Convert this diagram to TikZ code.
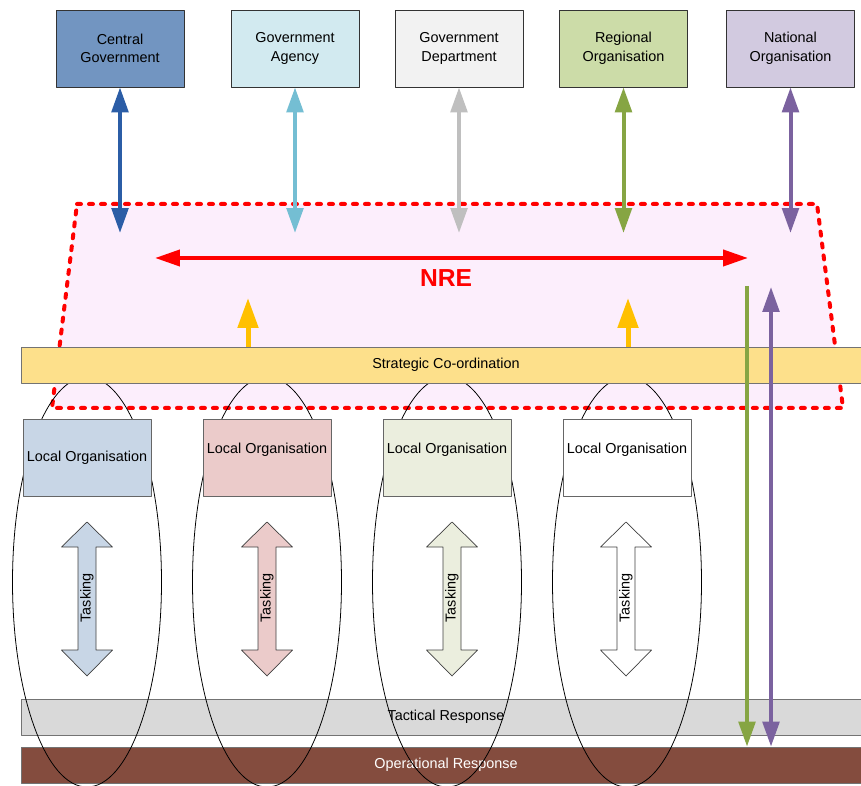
\documentclass[tikz,border=0pt]{standalone}
\usepackage{fontspec}
\setmainfont{Liberation Sans}
\usetikzlibrary{arrows.meta}
\definecolor{cgfill}{HTML}{7295C1}
\definecolor{gafill}{HTML}{D2EAF0}
\definecolor{gdfill}{HTML}{F2F2F2}
\definecolor{rofill}{HTML}{CCDCA8}
\definecolor{nofill}{HTML}{D2CAE0}
\definecolor{cgline}{HTML}{2B5DA6}
\definecolor{galine}{HTML}{74BED3}
\definecolor{gdline}{HTML}{BFBFBF}
\definecolor{roline}{HTML}{86A543}
\definecolor{noline}{HTML}{7B629F}
\definecolor{nrefill}{HTML}{FCEEFC}
\definecolor{scfill}{HTML}{FDE08B}
\definecolor{trfill}{HTML}{D9D9D9}
\definecolor{orfill}{HTML}{844C3E}
\definecolor{yline}{HTML}{FFC000}
\definecolor{lofilla}{HTML}{C8D6E6}
\definecolor{lofillb}{HTML}{EBCBCA}
\definecolor{lofillc}{HTML}{EBEEDE}
\begin{document}
\begin{tikzpicture}[x=0.02cm,y=-0.02cm,font=\fontsize{8.2}{10.6}\selectfont,line join=round,
	topbox/.style={draw=black!80,minimum width=2.56cm,minimum height=1.54cm,inner sep=1pt,align=center},
	localbox/.style={draw=black!60,minimum width=2.56cm,minimum height=1.54cm,inner sep=1pt,align=center},
	bar/.style={draw=black!55,minimum width=17cm,minimum height=0.72cm},
	link/.style={line width=0.08cm,{Triangle[length=0.5cm,width=0.33cm]}-{Triangle[length=0.5cm,width=0.33cm]}},
	downlink/.style={line width=0.08cm,-{Triangle[length=0.5cm,width=0.33cm]}},
	uplink/.style={line width=0.1cm,yline,-{Triangle[length=0.6cm,width=0.4cm]}}]
	\useasboundingbox (0,0) rectangle (861,786);
	\path
	(77,204) coordinate (P1) (817,204) coordinate (P2) (843,408) coordinate (P3) (52,408) coordinate (P4)
	(0,233) coordinate (in)
	(155,258) coordinate (L) (748,258) coordinate (R)
	(248,298) coordinate (Y1) (628,298) coordinate (Y2)
	(747,286) coordinate (G) (771,287) coordinate (V)
	;
	\draw[red,fill=nrefill,line width=0.08cm,dash pattern=on 0.08cm off 0.16cm,line cap=round] (P1)--(P2)--(P3)--(P4)--cycle;
	\node[bar,fill=trfill] (tr) at (446,717) {Tactical Response};
	\node[bar,fill=orfill,text=white] (or) at (446,765) {Operational Response};
	\foreach \x in {87,267,447,627}\draw[line width=0.45pt] (\x,582) ellipse [x radius=74.5,y radius=205];
	\node[bar,fill=scfill] (sc) at (446,365) {Strategic Co-ordination};
	\foreach \n/\x/\c/\t in {lo1/87/lofilla/{Local Organisation},lo2/267/lofillb/{Local Organisation\\\mbox{}},lo3/447/lofillc/{Local Organisation\\\mbox{}},lo4/627/white/{Local Organisation\\\mbox{}}}
	\node[localbox,fill=\c] (\n) at (\x,457.5) {\t};
	\foreach \x/\c in {87/lofilla,267/lofillb,452/lofillc,626/white}{
		\draw[black!75,fill=\c] (\x,522) -- ++(25.5,25) -- ++(-16.5,0) -- ++(0,103) -- ++(16.5,0) -- ++(-25.5,26) -- ++(-25.5,-26) -- ++(16.5,0) -- ++(0,-103) -- ++(-16.5,0) -- cycle;
		\node[rotate=90] (t\x) at (\x,598) {Tasking};
	}
	\foreach \n/\x/\c/\t in {cg/120/cgfill/{Central\\Government},ga/295/gafill/{Government\\Agency},gd/459/gdfill/{Government\\Department},ro/623.5/rofill/{Regional\\Organisation},no/790.5/nofill/{National\\Organisation}}
	\node[topbox,fill=\c] (\n) at (\x,48.5) {\t};
	\foreach \n/\c in {cg/cgline,ga/galine,gd/gdline,ro/roline,no/noline}\draw[link,\c] (\n.south) -- (\n.south|-in);
	\draw[link,red,{Triangle[length=0.5cm,width=0.32cm]}-{Triangle[length=0.5cm,width=0.32cm]}] (L) -- (R);
	\node[red,font=\fontsize{14}{16}\selectfont\bfseries] (nre) at (446,278) {NRE};
	\foreach \p in {Y1,Y2}\draw[uplink] (\p|-sc.north) -- (\p);
	\draw[downlink,roline] (G) -- (G|-or.north);
	\draw[link,noline] (V) -- (V|-or.north);
\end{tikzpicture}
\end{document}
